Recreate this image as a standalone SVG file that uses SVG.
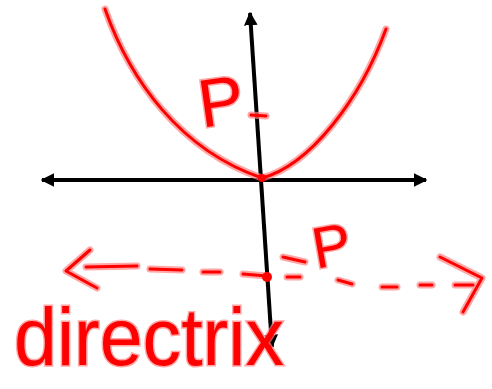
<svg xmlns="http://www.w3.org/2000/svg" width="492" height="389" viewBox="0 0 492 389">
<style>
.ax{stroke:#000;stroke-width:4;fill:none;stroke-linecap:butt}
.halo{stroke:#ff8080;stroke-opacity:0.7;stroke-width:7;fill:none;stroke-linecap:round;stroke-linejoin:round}
.ink{stroke:#ff0000;stroke-width:3;fill:none;stroke-linecap:round;stroke-linejoin:round}
.lbl{font-family:"Liberation Sans",Arial,sans-serif;fill:#ff0000;stroke:#ff8080;stroke-opacity:0.7;stroke-width:3;paint-order:stroke}
</style>
<defs>
<marker id="ah" viewBox="0 0 10 10" refX="9" refY="5" markerWidth="3.4" markerHeight="3.4" orient="auto-start-reverse" markerUnits="strokeWidth">
<path d="M0,0 L10,5 L0,10 Z" fill="#000"/>
</marker>
</defs>
<rect width="492" height="389" fill="#fff"/>
<g id="connectors">
<line class="ax" x1="42" y1="180" x2="426" y2="180" marker-start="url(#ah)" marker-end="url(#ah)"/>
<line class="ax" x1="250" y1="13" x2="272" y2="347" marker-start="url(#ah)" marker-end="url(#ah)"/>
</g>
<g id="parabola">
<path class="halo" d="M105,9 C130,80 180,150 262,178 C310,165 360,100 386,29"/>
<path class="ink" d="M105,9 C130,80 180,150 262,178 C310,165 360,100 386,29"/>
<circle cx="262" cy="178" r="4" fill="#ff0000"/>
</g>
<g id="focus-tick">
<path class="halo" d="M251,115 L266,116"/>
<path class="ink" d="M251,115 L266,116"/>
</g>
<g id="label-p-top">
<text class="lbl" x="198" y="125" font-size="68" transform="rotate(-8 220 100)">P</text>
</g>
<g id="directrix-line">
<path class="halo" d="M90,250 L66,271 L97,288 M86,267 L137,266 M150,269 L182,270 M203,272 L220,272 M243,274 L267,276 M283,257 L305,262 M287,277 L300,277 M338,280 L352,284 M382,287 L397,287 M420,285 L432,285 M455,285 L473,285 M440,257 L482,278 L463,312"/>
<path class="ink" d="M90,250 L66,271 L97,288 M86,267 L137,266 M150,269 L182,270 M203,272 L220,272 M243,274 L267,276 M283,257 L305,262 M287,277 L300,277 M338,280 L352,284 M382,287 L397,287 M420,285 L432,285 M455,285 L473,285 M440,257 L482,278 L463,312"/>
<circle cx="267" cy="277" r="5" fill="#ff0000"/>
</g>
<g id="label-p-bottom">
<text class="lbl" x="312" y="266" font-size="58" transform="rotate(-10 330 245)">P</text>
</g>
<g id="label-directrix">
<text class="lbl" x="14" y="365" font-size="82" textLength="270" lengthAdjust="spacingAndGlyphs">directrix</text>
</g>
</svg>
